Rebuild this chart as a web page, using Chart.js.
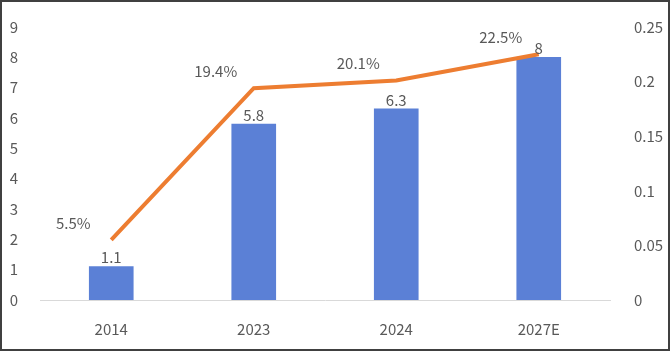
<!DOCTYPE html>
<html>
<head>
<meta charset="utf-8">
<script src="https://cdn.jsdelivr.net/npm/chart.js@4"></script>
<style>
  html, body { margin: 0; padding: 0; background: #fff; }
  #wrap { width: 670px; height: 351px; box-sizing: border-box; border: 2px solid #404040; }
  #chart { display: block; }
</style>
</head>
<body>
<div id="wrap"><canvas id="chart" width="666" height="347"></canvas></div>
<script>
const years = ['2014', '2023', '2024', '2027E'];
const marketSize = [1.1, 5.8, 6.3, 8];
const shareRate = [0.055, 0.194, 0.201, 0.225];
const shareLabels = ['5.5%', '19.4%', '20.1%', '22.5%'];
const leftTicks = [0, 1, 2, 3, 4, 5, 6, 7, 8, 9];
const rightTicks = [0, 0.05, 0.1, 0.15, 0.2, 0.25];

const textColor = '#595959';
const fontFamily = '"Noto Sans CJK KR", Roboto, sans-serif';

const labelPlugin = {
  id: 'valueLabels',
  afterDatasetsDraw(chart) {
    const ctx = chart.ctx;
    ctx.save();
    ctx.fillStyle = textColor;
    ctx.font = '15px ' + fontFamily;
    ctx.textAlign = 'center';
    ctx.textBaseline = 'middle';
    chart.getDatasetMeta(1).data.forEach((bar, i) => {
      ctx.fillText(String(marketSize[i]), bar.x, bar.y - 9);
    });
    chart.getDatasetMeta(0).data.forEach((pt, i) => {
      ctx.fillText(shareLabels[i], pt.x - 38, pt.y - 17);
    });
    ctx.restore();
  }
};

new Chart(document.getElementById('chart').getContext('2d'), {
  data: {
    labels: years,
    datasets: [
      {
        type: 'line',
        label: 'share',
        data: shareRate,
        yAxisID: 'y1',
        borderColor: '#ED7D31',
        borderWidth: 4,
        pointRadius: 0,
        tension: 0,
        order: 0,
      },
      {
        type: 'bar',
        label: 'size',
        data: marketSize,
        yAxisID: 'y',
        backgroundColor: '#5B80D6',
        barThickness: 44,
        order: 1,
      },
    ],
  },
  options: {
    responsive: false,
    animation: false,
    layout: { padding: { top: 12, left: 0, right: 0, bottom: 0 } },
    plugins: {
      legend: { display: false },
      tooltip: { enabled: false },
    },
    scales: {
      x: {
        grid: { display: false },
        border: { color: '#d9d9d9', width: 1 },
        ticks: { color: textColor, font: { family: fontFamily, size: 15 }, padding: 12 },
        afterFit(scale) { scale.height = 49; },
      },
      y: {
        position: 'left',
        min: 0,
        max: 9,
        afterBuildTicks(scale) { scale.ticks = leftTicks.map(v => ({ value: v })); },
        grid: { display: false },
        border: { display: false },
        ticks: { color: textColor, font: { family: fontFamily, size: 15 }, padding: 14 },
        afterFit(scale) { scale.width = 38; },
      },
      y1: {
        position: 'right',
        min: 0,
        max: 0.25,
        afterBuildTicks(scale) { scale.ticks = rightTicks.map(v => ({ value: v })); },
        grid: { display: false },
        border: { display: false },
        ticks: {
          color: textColor,
          font: { family: fontFamily, size: 15 },
          padding: 16,
          callback: v => String(+v.toFixed(2)),
        },
        afterFit(scale) { scale.width = 58; },
      },
    },
  },
  plugins: [labelPlugin],
});
</script>
</body>
</html>
